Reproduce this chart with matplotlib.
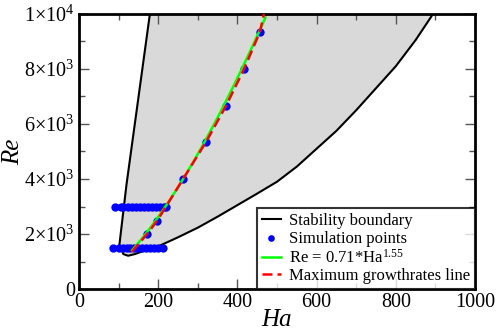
import numpy as np
import matplotlib
matplotlib.use('Agg')
import matplotlib.pyplot as plt
from matplotlib.ticker import MultipleLocator, FuncFormatter

plt.rcParams['font.family'] = ['Liberation Serif', 'DejaVu Serif']
plt.rcParams['mathtext.fontset'] = 'custom'
plt.rcParams['mathtext.rm'] = 'Liberation Serif'
plt.rcParams['mathtext.it'] = 'Liberation Serif:italic'

# stability boundary (Ha, Re), left branch top -> dip -> right branch top
bound_ha = [179, 160, 140, 120, 102, 112, 124, 141, 170, 200, 250, 300, 350, 400, 450,
            500, 550, 600, 650, 700, 750, 800, 850, 894]
bound_re = [10000, 8000, 5900, 3800, 1600, 1270, 1210, 1270, 1420, 1550, 1880, 2230, 2630,
            3050, 3470, 3900, 4450, 5100, 5750, 6500, 7300, 8100, 9050, 10000]

# simulation points
row1_ha = [87, 100, 110, 120, 130, 140, 150, 160, 170, 180, 190, 200, 212]
row1_re = [1500] * len(row1_ha)
row2_ha = [90, 105, 112, 125, 135, 145, 155, 165, 175, 185, 195, 205, 215, 220]
row2_re = [3000] * len(row2_ha)
diag_ha = [172, 197, 263, 321, 371, 417, 457]
diag_re = [2000, 2470, 4000, 5350, 6650, 8000, 9350]

# maximum growthrates line
gr_ha = [134, 172, 197, 263, 321, 371, 417, 457, 467]
gr_re = [1350, 2000, 2470, 4000, 5350, 6650, 8000, 9350, 10000]

fig = plt.figure(figsize=(4.98, 3.33), dpi=100)
ax = fig.add_axes([0.1586, 0.1321, 0.7952, 0.8259])

ax.fill(bound_ha, bound_re, color='#d9d9d9', zorder=1, lw=0)
ax.plot(bound_ha, bound_re, color='black', lw=1.5, zorder=2, label='Stability boundary')

ax.scatter(row1_ha + row2_ha + diag_ha, row1_re + row2_re + diag_re, s=36,
           color='#0000ff', zorder=3, label='Simulation points', linewidths=0)

ha_fit = np.linspace(134, 471, 200)
ax.plot(ha_fit, 0.71 * ha_fit ** 1.55, color='#00ff00', lw=1.8, zorder=4,
        label=r'Re = 0.71*Ha$^{1.55}$')
ax.plot(gr_ha, gr_re, color='#ff0000', lw=1.8, ls=(0, (4, 2)), zorder=5,
        label='Maximum growthrates line')

ax.set_xlim(0, 1000)
ax.set_ylim(0, 10000)
ax.xaxis.set_major_locator(MultipleLocator(200))
ax.xaxis.set_minor_locator(MultipleLocator(100))
ax.yaxis.set_major_locator(MultipleLocator(2000))
ax.yaxis.set_minor_locator(MultipleLocator(1000))


def yfmt(v, pos):
    if v <= 0:
        return '0'
    e = int(np.floor(np.log10(v)))
    m = int(round(v / 10 ** e))
    return '%d×10$^{%d}$' % (m, e)


ax.yaxis.set_major_formatter(FuncFormatter(yfmt))
ax.tick_params(which='both', direction='in', top=True, right=True,
               labelsize=14.5, color='#555555')
ax.tick_params(which='major', length=7, width=1, pad=3)
ax.tick_params(which='minor', length=4, width=1)
for s in ax.spines.values():
    s.set_linewidth(2)

ax.set_xlabel('Ha', fontsize=18, style='italic', labelpad=-2)
ax.set_ylabel('Re', fontsize=18, style='italic', labelpad=0)

leg = ax.legend(loc='lower right', fontsize=12, frameon=True, fancybox=False,
                borderaxespad=0, handlelength=1.1, handletextpad=0.5,
                labelspacing=0.1, borderpad=0.3, scatterpoints=1, markerscale=0.8)
leg.get_frame().set_edgecolor('black')
leg.get_frame().set_linewidth(1.5)

fig.savefig('out.png', dpi=100)
